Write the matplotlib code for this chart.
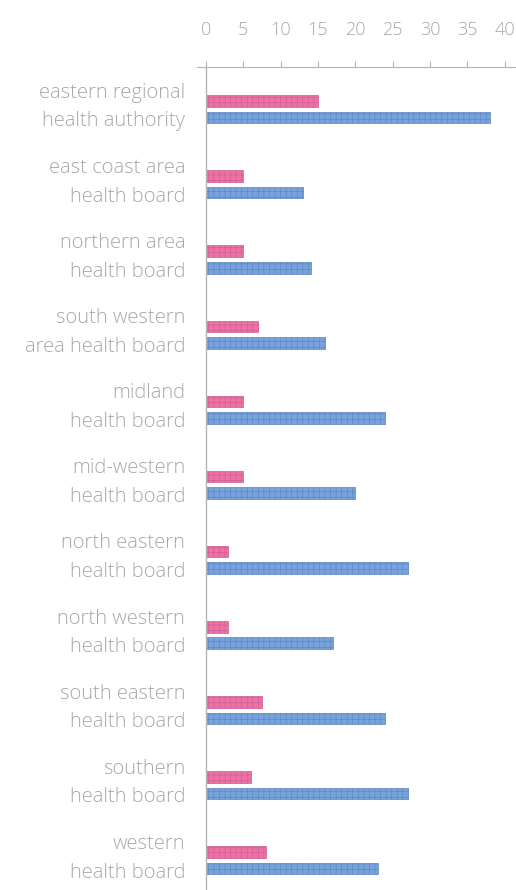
import numpy as np
import matplotlib.pyplot as plt

regions = [
    "eastern regional\nhealth authority",
    "east coast area\nhealth board",
    "northern area\nhealth board",
    "south western\narea health board",
    "midland\nhealth board",
    "mid-western\nhealth board",
    "north eastern\nhealth board",
    "north western\nhealth board",
    "south eastern\nhealth board",
    "southern\nhealth board",
    "western\nhealth board",
]
pink_values = [15, 5, 5, 7, 5, 5, 3, 3, 7.5, 6, 8]
blue_values = [38, 13, 14, 16, 24, 20, 27, 17, 24, 27, 23]
x_ticks = [0, 5, 10, 15, 20, 25, 30, 35, 40]

plt.rcParams['font.family'] = ['Open Sans', 'DejaVu Sans']
plt.rcParams['hatch.linewidth'] = 0.4

fig = plt.figure(figsize=(5.16, 8.9), dpi=100)
ax = fig.add_axes([197 / 516, 0, 1 - 197 / 516, 1 - 67 / 890])

y = np.arange(len(regions))
offset = 0.11
height = 0.155

ax.barh(y - offset, pink_values, height=height, color='#ec72a6',
        edgecolor='#cf5a8e', linewidth=0.5, hatch='+++')
ax.barh(y + offset, blue_values, height=height, color='#78a2dc',
        edgecolor='#5a84c0', linewidth=0.5, hatch='+++')

ax.axvline(0, color='#b4b4b4', linewidth=1)
ax.set_xlim(-1.2, 41.5)
ax.set_ylim(10.395, -0.563)

ax.xaxis.tick_top()
ax.set_xticks(x_ticks)
ax.set_xticklabels([str(t) for t in x_ticks], fontsize=13, color='#a8a8a8',
                   fontweight='light')
ax.tick_params(axis='x', direction='out', length=4, width=0.8,
               color='#b4b4b4', pad=16)

ax.set_yticks(y - 0.12)
ax.set_yticklabels(regions, fontsize=14.5, color='#a8a8a8', linespacing=1.58,
                   fontweight='light')
ax.tick_params(axis='y', length=0, pad=8.5)

for s in ['left', 'right', 'bottom']:
    ax.spines[s].set_visible(False)
ax.spines['top'].set_color('#b4b4b4')
ax.spines['top'].set_linewidth(0.8)

fig.savefig('out.png', dpi=100)
